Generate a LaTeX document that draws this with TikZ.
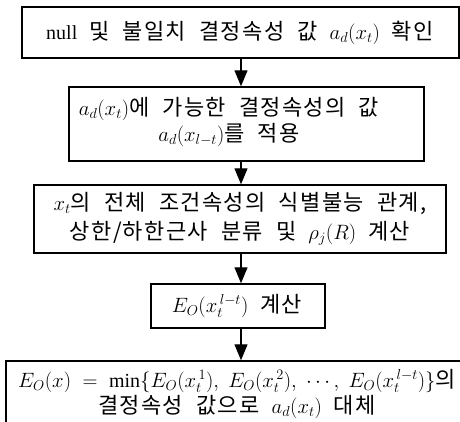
\documentclass[tikz,border=0pt]{standalone}
\usepackage{fontspec}
\setmainfont{Liberation Serif}
\newfontfamily\kr[LetterSpace=6,Scale=1.1]{Noto Sans CJK KR}
\usetikzlibrary{arrows.meta}
\newcommand\gap{\hspace{0.6em}}
\tikzset{
  box/.style={draw, line width=1.5pt, rectangle, inner sep=0pt},
  txt/.style={inner sep=0pt, align=center},
  flow/.style={line width=1.4pt, -{Triangle[width=13pt,length=16pt]}},
}
\begin{document}
\begin{tikzpicture}[x=1pt,y=1pt]
\useasboundingbox (0,0) rectangle (460,-421);
\node[box, minimum width=437pt, minimum height=51pt] (b1) at (240.5,-32.5) {};
\node[box, minimum width=355pt, minimum height=74pt] (b2) at (246.5,-124) {};
\node[box, minimum width=412pt, minimum height=68pt] (b3) at (240,-219) {};
\node[box, minimum width=174pt, minimum height=44pt] (b4) at (238,-306) {};
\node[box, minimum width=469pt, minimum height=79pt] (b5) at (240.5,-400.5) {};

\node[txt, font=\fontsize{20}{26}\selectfont] (t1) at (240,-33)
  {null\gap{\kr 및\gap 불일치\gap 결정속성\gap 값}\gap$a_d(x_t)$\gap{\kr 확인}};
\node[txt, font=\fontsize{20}{26}\selectfont] (t2) at (229,-122)
  {$a_d(x_t)${\kr 에\gap 가능한\gap 결정속성의\gap 값}\\$a_d(x_{l-t})${\kr 를\gap 적용}};
\node[txt, font=\fontsize{20}{29}\selectfont] (t3) at (240,-219)
  {$x_t${\kr 의\gap 전체\gap 조건속성의\gap 식별불능\gap 관계,}\\{\kr 상한/하한근사\gap 분류\gap 및}\gap$\rho_j(R)$\gap{\kr 계산}};
\node[txt, font=\fontsize{20}{26}\selectfont] (t4) at (237,-306)
  {$E_O(x_t^{\,l-t})$\gap{\kr 계산}};
\node[txt, font=\fontsize{20}{26}\selectfont] (t5) at (237,-394)
  {$E_O(x)\;=\;\min\{E_O(x_t^{\,1}),\;E_O(x_t^{\,2}),\;\cdots,\;E_O(x_t^{\,l-t})\}${\kr 의}\\{\kr 결정속성\gap 값으로}\gap$a_d(x_t)$\gap{\kr 대체}};

\coordinate (ax) at (241,0);
\draw[flow] (b1.south -| ax) -- (b2.north -| ax);
\draw[flow] (b2.south -| ax) -- (b3.north -| ax);
\draw[flow] (b3.south -| ax) -- (b4.north -| ax);
\draw[flow] (b4.south -| ax) -- (b5.north -| ax);
\end{tikzpicture}
\end{document}
